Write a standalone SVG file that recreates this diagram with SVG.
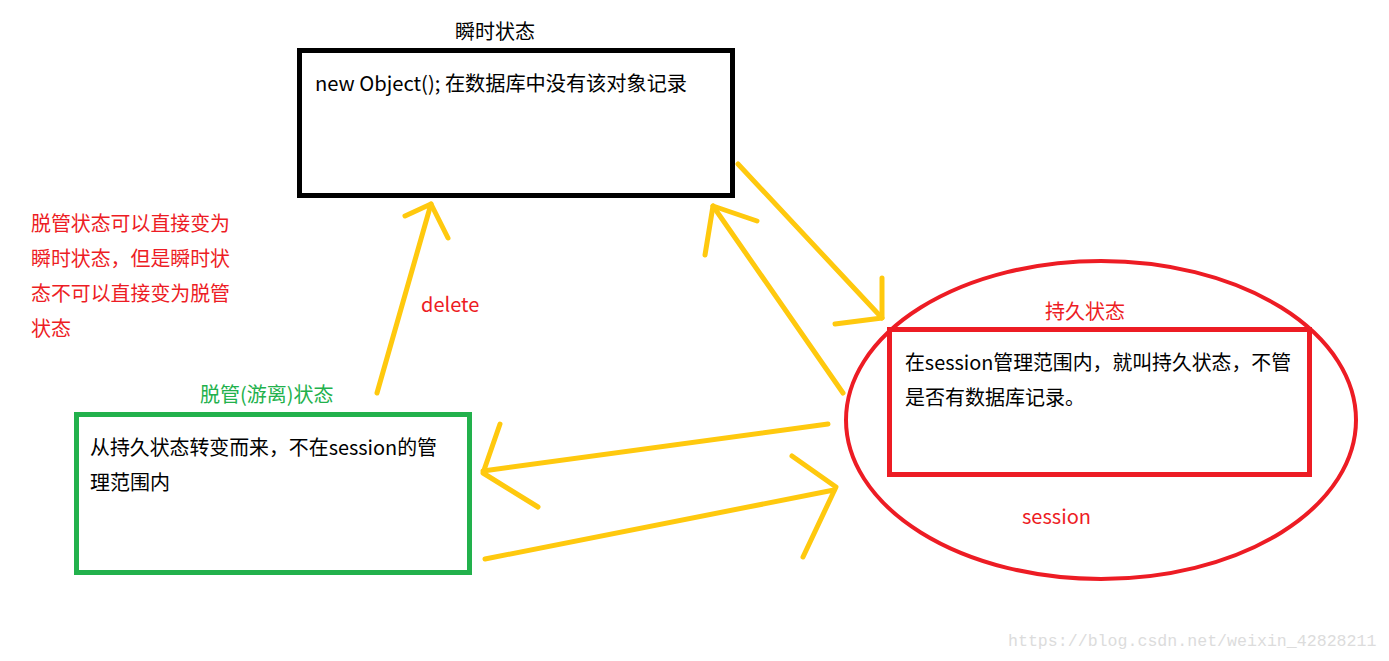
<svg xmlns="http://www.w3.org/2000/svg" width="1389" height="661" viewBox="0 0 1389 661">
<style>
text{font-family:"Microsoft YaHei","Noto Sans CJK SC","Noto Sans",sans-serif;font-size:20px}
.blk{fill:#000}
.red{fill:#ED1C24}
.grn{fill:#22B14C}
.conn line,.conn polyline{stroke:#FFC90E;stroke-width:5;stroke-linecap:round;stroke-linejoin:round;fill:none}
.wm{font-family:"Liberation Mono",monospace;font-size:16.6px;fill:#dcdcdc}
</style>
<rect width="1389" height="661" fill="#fff"/>
<g id="transient">
<text class="blk" x="455" y="39">瞬时状态</text>
<rect x="299.5" y="50.5" width="433" height="145" fill="none" stroke="#000" stroke-width="5"/>
<text class="blk" x="315" y="91" textLength="372" lengthAdjust="spacingAndGlyphs">new Object(); 在数据库中没有该对象记录</text>
</g>
<g id="note">
<text class="red" x="31" y="231" textLength="199" lengthAdjust="spacingAndGlyphs">脱管状态可以直接变为</text>
<text class="red" x="31" y="266" textLength="199" lengthAdjust="spacingAndGlyphs">瞬时状态，但是瞬时状</text>
<text class="red" x="31" y="301" textLength="199" lengthAdjust="spacingAndGlyphs">态不可以直接变为脱管</text>
<text class="red" x="31" y="336">状态</text>
</g>
<g id="detached">
<text class="grn" x="200" y="402">脱管(游离)状态</text>
<rect x="76.5" y="414.5" width="393" height="158" fill="none" stroke="#22B14C" stroke-width="5"/>
<text class="blk" x="90" y="455" textLength="347" lengthAdjust="spacingAndGlyphs">从持久状态转变而来，不在session的管</text>
<text class="blk" x="90" y="490">理范围内</text>
</g>
<g id="persistent">
<ellipse cx="1101" cy="420" rx="255" ry="159" fill="none" stroke="#ED1C24" stroke-width="4"/>
<text class="red" x="1045" y="319">持久状态</text>
<rect x="889.5" y="329.5" width="420" height="145" fill="none" stroke="#ED1C24" stroke-width="5"/>
<text class="blk" x="905" y="370" textLength="386" lengthAdjust="spacingAndGlyphs">在session管理范围内，就叫持久状态，不管</text>
<text class="blk" x="905" y="405">是否有数据库记录。</text>
<text class="red" x="1022" y="524">session</text>
</g>
<g id="connectors" class="conn">
<line x1="377" y1="393" x2="431" y2="204"/>
<polyline points="405,216 431,204 448,238"/>
<line x1="738" y1="164" x2="882" y2="318"/>
<polyline points="882,278 882,318 835,324"/>
<line x1="843" y1="393" x2="713" y2="206"/>
<polyline points="705,255 713,206 757,221"/>
<line x1="828" y1="424" x2="483" y2="471"/>
<polyline points="500,424 483,473 538,507"/>
<line x1="485" y1="559" x2="834" y2="490"/>
<polyline points="792,456 836,487 803,557"/>
</g>
<g id="delete-label">
<text class="red" x="421" y="312">delete</text>
</g>
<text class="wm" x="1008" y="646">https://blog.csdn.net/weixin_42828211</text>
</svg>
